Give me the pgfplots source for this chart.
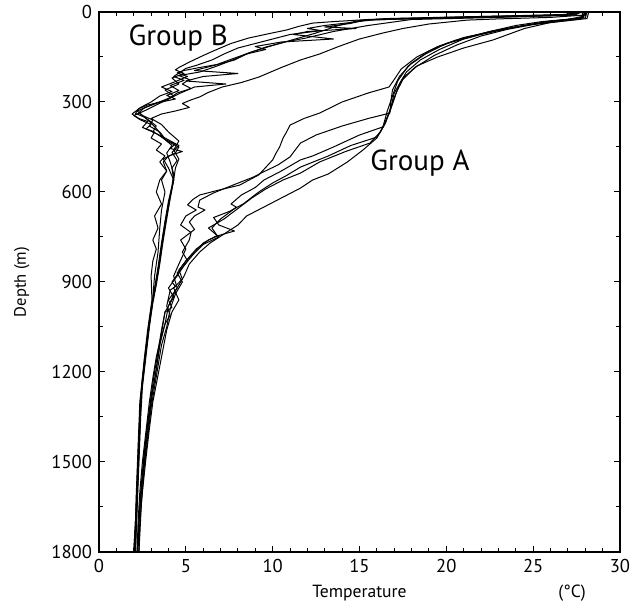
\documentclass[border=0pt]{standalone}
\usepackage{pgfplots}
\pgfplotsset{compat=1.18}
\usepackage{fontspec}
\setmainfont{PT Sans}
\begin{document}
\begin{tikzpicture}[prof/.style={black, solid, line width=0.5pt, line join=round, mark=none}]
\begin{axis}[
  at={(0,0)}, anchor=south west,
  scale only axis, width=260.5pt, height=270pt,
  xmin=0, xmax=30, ymin=0, ymax=1800, y dir=reverse,
  xtick={0,5,...,30}, minor x tick num=4,
  ytick={0,300,...,1800}, minor y tick num=1,
  tick align=inside, xtick pos=both, ytick pos=both,
  xticklabel pos=lower, yticklabel pos=left,
  major tick length=3.2pt, minor tick length=2pt,
  every tick/.style={black, line width=0.5pt},
  axis line style={black, line width=0.7pt},
  /pgf/number format/assume math mode=true,
  /pgf/number format/set thousands separator={},
  tick label style={font=\fontsize{9.3}{11}\selectfont},
  xlabel={Temperature}, ylabel={Depth (m)},
  xlabel style={at={(axis description cs:0.5,-0.076)}, anchor=center, font=\fontsize{8.8}{10}\selectfont},
  ylabel style={at={(axis description cs:-0.148,0.5)}, anchor=center, font=\fontsize{8.3}{10}\selectfont},
  clip mode=individual,
]
% ---------------- Group A ----------------
\addplot[prof] coordinates {(27.9,0) (27.8,15) (27.0,25) (25.0,40) (23.0,60) (21.0,85) (19.5,115) (18.3,150) (17.4,190) (17.0,225) (16.7,250) (15.5,270) (14.0,300) (12.7,337) (11.8,355) (11.0,377) (10.8,400) (10.6,420) (10.4,450) (10.2,470) (10.0,493) (9.2,543) (8.1,577) (6.8,595) (5.8,610) (5.4,625) (5.1,643) (5.6,660) (5.0,680) (4.7,710) (5.3,735) (5.2,760) (4.8,800) (5.1,830) (4.7,860) (4.2,900) (4.4,915) (4.1,927) (3.9,980) (4.1,1010) (3.8,1040) (3.5,1100) (3.3,1150) (3.1,1220) (2.9,1300) (2.7,1400) (2.5,1500) (2.35,1600) (2.25,1700) (2.2,1800)};
\addplot[prof] coordinates {(28.0,0) (27.9,18) (26.5,28) (24.5,45) (22.5,65) (20.5,95) (19.0,130) (18.0,170) (17.3,215) (16.9,260) (16.8,300) (16.75,337) (15.5,355) (14.0,380) (12.5,410) (11.6,437) (11.0,483) (10.3,510) (9.4,535) (8.9,550) (7.8,575) (6.6,603) (5.8,627) (5.7,650) (6.1,660) (5.5,680) (5.2,700) (5.5,725) (4.7,760) (5.0,790) (4.6,840) (4.3,880) (4.5,920) (4.0,960) (4.2,985) (3.8,1000) (3.6,1070) (3.4,1150) (3.2,1230) (3.0,1290) (2.8,1380) (2.6,1480) (2.45,1580) (2.3,1700) (2.25,1800)};
\addplot[prof] coordinates {(28.1,0) (28.0,20) (26.0,30) (24.0,50) (22.0,75) (20.0,105) (18.8,140) (17.8,180) (17.2,230) (16.9,280) (16.6,330) (16.35,383) (15.0,410) (13.5,450) (12.3,480) (11.6,493) (10.5,530) (9.5,560) (9.0,585) (8.2,610) (7.6,640) (7.9,650) (7.7,660) (7.0,690) (6.5,720) (6.8,745) (6.0,770) (5.5,800) (5.0,830) (4.6,860) (4.8,890) (4.3,920) (4.6,960) (4.2,1000) (3.9,1060) (3.7,1120) (3.5,1180) (3.3,1240) (3.1,1300) (2.9,1390) (2.7,1490) (2.5,1600) (2.35,1700) (2.3,1800)};
\addplot[prof] coordinates {(28.2,0) (28.1,22) (26.8,30) (25.0,42) (23.5,58) (22.0,80) (20.6,110) (19.3,145) (18.2,185) (17.5,225) (17.1,270) (16.8,320) (16.4,380) (16.0,417) (14.5,445) (13.2,480) (11.6,517) (10.8,545) (10.0,570) (9.2,600) (8.3,640) (7.5,665) (6.6,685) (6.9,710) (7.8,730) (6.9,745) (6.3,760) (5.6,790) (5.0,830) (4.5,870) (4.8,900) (4.4,940) (4.1,990) (3.9,1050) (3.6,1110) (3.4,1180) (3.2,1250) (3.0,1320) (2.8,1420) (2.6,1520) (2.45,1630) (2.3,1800)};
\addplot[prof] coordinates {(28.0,0) (27.8,20) (25.5,32) (24.0,45) (22.5,65) (21.0,90) (19.6,125) (18.5,160) (17.7,200) (17.3,240) (17.0,290) (16.7,340) (16.2,400) (15.6,437) (14.2,465) (12.7,500) (11.6,537) (10.6,560) (9.6,590) (8.8,620) (8.0,655) (7.2,690) (6.3,720) (6.9,750) (6.0,775) (5.4,810) (4.9,845) (4.5,880) (4.0,920) (4.3,950) (3.8,1000) (3.6,1060) (3.4,1130) (3.2,1200) (3.0,1280) (2.8,1370) (2.6,1470) (2.4,1600) (2.2,1800)};
\addplot[prof] coordinates {(27.8,0) (27.9,15) (27.5,25) (26.0,35) (24.5,55) (22.7,93) (21.0,120) (19.5,150) (18.3,180) (17.5,220) (17.0,270) (16.8,320) (16.5,370) (16.0,420) (15.2,460) (14.3,500) (13.2,540) (12.3,560) (11.6,587) (10.5,620) (9.5,650) (8.5,680) (8.0,710) (7.2,740) (6.4,770) (5.8,800) (5.2,840) (4.9,880) (4.4,930) (4.0,980) (3.8,1040) (3.5,1110) (3.3,1190) (3.1,1260) (2.9,1350) (2.7,1450) (2.5,1560) (2.3,1700) (2.2,1800)};
% ---------------- Group B ----------------
\addplot[prof] coordinates {(27.6,0) (27.0,8) (22.0,15) (17.0,22) (15.5,25) (13.5,32) (12.3,37) (11.5,48) (10.8,60) (9.8,72) (8.6,87) (7.6,105) (6.7,127) (6.0,145) (5.2,167) (4.6,185) (4.4,193) (4.9,205) (4.2,220) (4.6,240) (3.8,260) (4.3,280) (3.5,300) (2.6,320) (2.3,335) (2.6,350) (3.0,370) (3.4,395) (3.7,420) (4.2,445) (3.9,470) (4.1,500) (4.3,540) (4.2,580) (4.0,640) (3.8,700) (3.6,780) (3.4,860) (3.2,930) (3.0,990) (2.8,1080) (2.6,1180) (2.45,1260) (2.35,1400) (2.25,1550) (2.15,1700) (2.05,1800)};
\addplot[prof] coordinates {(27.8,0) (27.4,10) (23.0,18) (18.0,25) (15.5,45) (13.5,65) (11.9,87) (10.7,100) (9.6,117) (8.7,135) (7.7,160) (6.8,180) (5.8,200) (5.0,208) (4.6,212) (5.2,225) (4.8,240) (5.3,255) (4.5,270) (4.0,290) (3.2,305) (2.2,330) (2.5,345) (3.1,360) (2.9,380) (3.5,400) (3.9,430) (4.6,450) (4.4,470) (3.7,490) (4.0,520) (4.3,560) (4.1,620) (3.9,680) (3.7,750) (3.5,830) (3.3,900) (3.1,960) (2.9,1040) (2.7,1130) (2.5,1230) (2.4,1300) (2.3,1450) (2.2,1600) (2.1,1700) (2.0,1800)};
\addplot[prof] coordinates {(27.5,0) (27.2,10) (22.0,17) (17.0,24) (15.2,28) (14.5,38) (13.0,50) (14.8,55) (12.0,65) (11.2,75) (13.5,90) (10.5,100) (9.0,115) (9.6,125) (8.5,140) (7.8,160) (6.5,180) (5.5,195) (8.0,205) (6.0,215) (5.0,230) (7.3,240) (5.5,250) (4.7,270) (4.0,290) (3.3,310) (2.6,330) (2.0,345) (2.4,360) (3.0,375) (2.7,390) (3.3,405) (3.8,425) (4.4,440) (4.1,455) (4.8,465) (4.0,480) (3.7,500) (3.9,530) (3.5,560) (3.3,600) (3.6,640) (3.2,680) (3.4,720) (3.1,760) (3.3,790) (3.1,830) (3.0,880) (3.05,960) (2.8,1060) (2.6,1160) (2.45,1250) (2.3,1400) (2.2,1550) (2.1,1700) (2.0,1800)};
\addplot[prof] coordinates {(27.9,0) (28.0,10) (26.0,18) (23.0,23) (21.2,27) (19.0,40) (17.5,55) (16.35,70) (15.0,90) (13.8,115) (12.7,140) (11.6,160) (10.5,185) (9.2,217) (8.2,235) (7.1,250) (6.3,268) (5.8,283) (5.3,293) (4.8,305) (5.2,318) (4.4,330) (3.6,340) (3.0,355) (3.6,375) (4.0,400) (4.6,430) (4.3,460) (4.6,490) (4.4,520) (4.3,560) (4.1,620) (3.9,690) (3.7,760) (3.5,840) (3.3,910) (3.1,970) (2.9,1050) (2.7,1150) (2.5,1250) (2.4,1350) (2.3,1500) (2.2,1650) (2.1,1800)};
\addplot[prof] coordinates {(27.7,0) (27.3,9) (21.0,16) (16.5,22) (15.0,28) (13.8,45) (12.5,70) (11.0,95) (9.8,115) (8.7,135) (7.5,160) (6.8,175) (5.8,185) (4.9,195) (4.5,203) (5.1,215) (4.4,232) (3.6,250) (4.2,265) (3.5,280) (3.0,300) (2.4,318) (1.9,340) (2.3,355) (2.8,365) (2.5,385) (3.2,400) (3.0,420) (3.6,440) (3.3,460) (3.8,480) (3.5,500) (3.9,530) (3.6,560) (3.8,600) (3.6,660) (3.5,720) (3.4,800) (3.2,880) (3.1,950) (2.9,1030) (2.7,1120) (2.5,1220) (2.35,1300) (2.25,1450) (2.15,1600) (2.05,1800)};
\addplot[prof] coordinates {(27.6,0) (26.5,12) (20.0,20) (15.8,26) (14.5,35) (13.0,45) (12.0,55) (12.8,62) (11.0,75) (10.0,90) (9.0,105) (8.0,120) (7.2,140) (6.5,160) (5.6,178) (5.0,188) (4.7,200) (4.3,215) (4.9,228) (4.1,245) (4.6,262) (3.9,278) (4.4,290) (3.6,300) (2.8,310) (2.3,322) (2.1,338) (2.6,350) (2.9,362) (3.3,380) (3.1,400) (3.8,420) (4.6,445) (4.2,468) (4.5,495) (4.2,520) (4.3,560) (4.0,630) (3.8,700) (3.6,770) (3.4,850) (3.2,920) (3.0,1000) (2.8,1090) (2.6,1190) (2.4,1290) (2.3,1450) (2.2,1600) (2.1,1800)};
\node[font=\fontsize{14.5}{16}\selectfont, anchor=center] at (axis description cs:0.152,0.952) {Group B};
\node[font=\fontsize{14.5}{16}\selectfont, anchor=center] at (axis description cs:0.616,0.72) {Group A};
\node[font=\fontsize{8.8}{10}\selectfont, anchor=center] at (axis description cs:0.908,-0.076) {(\textdegree C)};
\end{axis}
\pgfresetboundingbox
\path[use as bounding box] (-49.5pt,-26pt) rectangle (270pt,276pt);
\end{tikzpicture}
\end{document}
